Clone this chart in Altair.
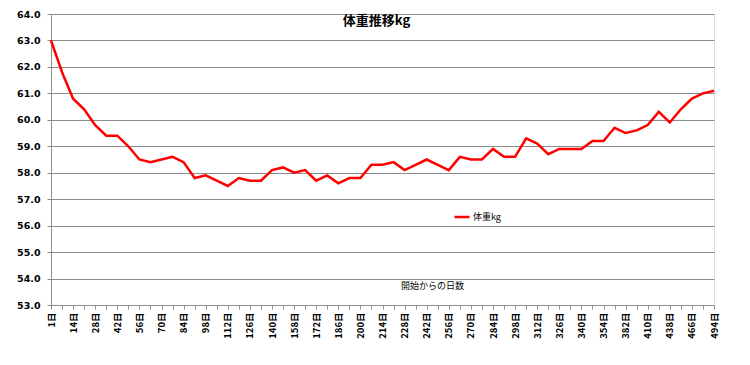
import altair as alt
import pandas as pd

days = ["1日", "7日", "14日", "21日", "28日", "35日", "42日", "49日", "56日", "63日",
        "70日", "77日", "84日", "91日", "98日", "105日", "112日", "119日", "126日", "133日",
        "140日", "149日", "158日", "165日", "172日", "179日", "186日", "193日", "200日", "207日",
        "214日", "221日", "228日", "235日", "242日", "249日", "256日", "263日", "270日", "277日",
        "284日", "291日", "298日", "305日", "312日", "319日", "326日", "333日", "340日", "347日",
        "354日", "368日", "382日", "396日", "410日", "424日", "438日", "452日", "466日", "480日",
        "494日"]

weights = [63.0, 61.8, 60.8, 60.4, 59.8, 59.4, 59.4, 59.0, 58.5, 58.4,
           58.5, 58.6, 58.4, 57.8, 57.9, 57.7, 57.5, 57.8, 57.7, 57.7,
           58.1, 58.2, 58.0, 58.1, 57.7, 57.9, 57.6, 57.8, 57.8, 58.3,
           58.3, 58.4, 58.1, 58.3, 58.5, 58.3, 58.1, 58.6, 58.5, 58.5,
           58.9, 58.6, 58.6, 59.3, 59.1, 58.7, 58.9, 58.9, 58.9, 59.2,
           59.2, 59.7, 59.5, 59.6, 59.8, 60.3, 59.9, 60.4, 60.8, 61.0,
           61.1]

labeled_days = ["1日", "14日", "28日", "42日", "56日", "70日", "84日", "98日", "112日",
                "126日", "140日", "158日", "172日", "186日", "200日", "214日", "228日",
                "242日", "256日", "270日", "284日", "298日", "312日", "326日", "340日",
                "354日", "382日", "410日", "438日", "466日", "494日"]

y_ticks = [53, 54, 55, 56, 57, 58, 59, 60, 61, 62, 63, 64]

series_name = "体重kg"
chart_title = "体重推移kg"
x_title = "開始からの日数"

df = pd.DataFrame({"day": days, "weight": weights, "series": [series_name] * len(days)})

arr = "[" + ",".join("'" + d + "'" for d in labeled_days) + "]"
label_expr = f"indexof({arr}, datum.value) >= 0 ? datum.value : ''"

jp_font = "Noto Sans CJK JP"

chart = alt.Chart(df).mark_line(strokeWidth=2.5, strokeJoin="miter").encode(
    x=alt.X("day:O", sort=days,
            scale=alt.Scale(type="point", padding=0),
            axis=alt.Axis(
                title=x_title, titleX=381, titleY=-20, titleAlign="center",
                titleBaseline="middle", titleFont=jp_font, titleFontSize=9,
                titleFontWeight="normal", titleColor="#000000",
                labelAngle=270, labelExpr=label_expr, labelOverlap=False,
                labelFont=jp_font, labelFontSize=9.5, labelFontWeight="bold",
                labelColor="#000000", labelPadding=3,
                tickSize=4, tickColor="#8c8c8c", domainColor="#8c8c8c",
                grid=False)),
    y=alt.Y("weight:Q",
            scale=alt.Scale(domain=[53, 64], nice=False, zero=False),
            axis=alt.Axis(
                title=None, values=y_ticks, format=".1f",
                labelFont="DejaVu Sans", labelFontSize=9.5, labelFontWeight="bold",
                labelColor="#000000", labelPadding=7,
                tickSize=4, tickColor="#8c8c8c", domainColor="#8c8c8c",
                grid=True, gridColor="#8c8c8c", gridWidth=1)),
    color=alt.Color("series:N",
                    scale=alt.Scale(range=["#ff0000"]),
                    legend=alt.Legend(
                        title=None, orient="none", legendX=402, legendY=194,
                        symbolType="stroke", symbolStrokeWidth=2.5, symbolSize=225,
                        labelFont=jp_font, labelFontSize=9, labelColor="#000000",
                        labelOffset=2)),
).properties(
    width=663,
    height=291,
    title=alt.TitleParams(chart_title, font=jp_font, fontSize=13, fontWeight="bold",
                          color="#000000", anchor="middle", dx=-6, dy=23),
    autosize=alt.AutoSizeParams(type="none"),
    padding={"left": 43, "top": 6, "right": 28, "bottom": 52},
).configure_view(stroke=None).configure(background="#ffffff")

chart.save("out.html", embed_options={"renderer": "svg", "actions": False})
